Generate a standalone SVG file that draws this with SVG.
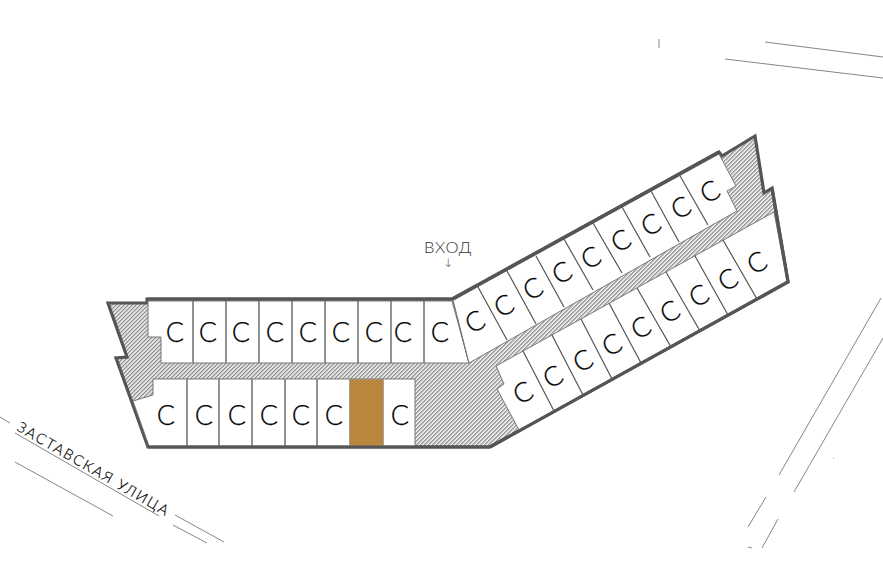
<svg xmlns="http://www.w3.org/2000/svg" width="883" height="571" viewBox="0 0 883 571">
<style>
.o{fill:url(#h);stroke:#555;stroke-width:3.2;stroke-linejoin:miter}
.c{fill:#fff;stroke:#777;stroke-width:1}
.d{fill:none;stroke:#777;stroke-width:1.6}
.s{fill:none;stroke:#555;stroke-width:1.2}
.l{fill:none;stroke:#666;stroke-width:.8}
.e{fill:none;stroke:#555;stroke-width:3.2}
text{font-family:"Lato","Liberation Sans",sans-serif;font-weight:300;fill:#000;stroke:#000;stroke-width:.25;opacity:.99}
.t{font-size:27px;text-anchor:middle}
</style>
<defs>
<pattern id="h" width="2.83" height="2.83" patternUnits="userSpaceOnUse" patternTransform="rotate(-45)">
<rect width="2.83" height="2.83" fill="#fff"/><rect width="2.83" height="1.4" fill="#8c8c8c"/>
</pattern>
</defs>
<rect width="883" height="571" fill="#fff"/>
<g id="building">
<polygon class="o" points="147,303 147,299 452,299 719,152 722,156 755,136 764,193 772,188 788,282 490,447 148,447 116,358 127,357 108,303"/>
</g>
<g id="row-1">
<polygon class="c" points="148,301 452,301 469,363 161,363 161,337 148,337"/>
<path class="d" d="M193,300V363M226,300V363M259,300V363M292,300V363M325,300V363M358,300V363M391,300V363M424,300V363"/>
<path class="s" d="M453,299L469,363"/>
</g>
<g id="row-2">
<polygon class="c" points="153,379 415,379 415,446 149,446 133,401 153,395"/>
<path class="d" d="M187,379V446M219,379V446M252,379V446M285,379V446M317,379V446"/>
</g>
<g id="unit-highlight"><rect x="349.500" y="379" width="34" height="67" fill="#b9863f" stroke="#999" stroke-width=".8"/></g>
<g id="row-3">
<polygon class="c" points="453,300 719,154 736,186 727,191 737,211 469,363"/>
<path class="s" d="M478,287L507,340M507,271L536,324M536,256L564,307M564,239L593,290M593,223L622,273M622,207L650,257M651,191L679,242M679,174L708,225"/>
</g>
<g id="row-4">
<polygon class="c" points="496,366 774,212 787,281 519,430 497,389 504,384"/>
<path class="s" d="M523,351L554,411M552,335L583,395M581,319L612,379M609,303L641,363M637,288L671,347M666,272L700,331M695,256L728,315M723,240L757,299"/>
</g>
<g id="outline">
<path class="e" d="M490,447L788,282L772,188M453,299L719,152M147,299H452M148,447H490"/>
</g>
<g id="labels-row-1">
<text class="t" x="175" y="342">С</text><text class="t" x="208" y="342">С</text><text class="t" x="241" y="342">С</text><text class="t" x="275" y="342">С</text><text class="t" x="308" y="342">С</text><text class="t" x="341" y="342">С</text><text class="t" x="374" y="342">С</text><text class="t" x="403" y="342">С</text><text class="t" x="440" y="342">С</text>
</g>
<g id="labels-row-2">
<text class="t" x="166" y="425">С</text><text class="t" x="204" y="425">С</text><text class="t" x="237" y="425">С</text><text class="t" x="269" y="425">С</text><text class="t" x="301" y="425">С</text><text class="t" x="334" y="425">С</text><text class="t" x="400" y="425">С</text>
</g>
<g id="labels-row-3">
<text class="t" transform="translate(475,322) rotate(-28)" y="9">С</text><text class="t" transform="translate(504,306) rotate(-28)" y="9">С</text><text class="t" transform="translate(533,289) rotate(-28)" y="9">С</text><text class="t" transform="translate(562,273) rotate(-28)" y="9">С</text><text class="t" transform="translate(591,258) rotate(-28)" y="9">С</text><text class="t" transform="translate(621,241) rotate(-28)" y="9">С</text><text class="t" transform="translate(651,225) rotate(-28)" y="9">С</text><text class="t" transform="translate(681,208) rotate(-28)" y="9">С</text><text class="t" transform="translate(710,192) rotate(-28)" y="9">С</text>
</g>
<g id="labels-row-4">
<text class="t" transform="translate(523,393) rotate(-28)" y="9">С</text><text class="t" transform="translate(553,377) rotate(-28)" y="9">С</text><text class="t" transform="translate(583,361) rotate(-28)" y="9">С</text><text class="t" transform="translate(612,345) rotate(-28)" y="9">С</text><text class="t" transform="translate(641,328) rotate(-28)" y="9">С</text><text class="t" transform="translate(670,312) rotate(-28)" y="9">С</text><text class="t" transform="translate(699,296) rotate(-28)" y="9">С</text><text class="t" transform="translate(728,280) rotate(-28)" y="9">С</text><text class="t" transform="translate(757,263) rotate(-28)" y="9">С</text>
</g>
<g id="entrance">
<text x="448" y="253" font-size="16.500" letter-spacing=".8" text-anchor="middle" style="fill:#333;stroke:none">ВХОД</text>
<text x="448" y="267" font-size="12" text-anchor="middle" style="fill:#555;stroke:none;font-family:'DejaVu Sans',sans-serif">↓</text>
</g>
<g id="street">
<text font-size="14.500" transform="translate(16,430) rotate(30)" textLength="172" style="stroke-width:.2">ЗАСТАВСКАЯ УЛИЦА</text>
</g>
<g id="connectors">
<path class="l" d="M0,417L10,423M15,433L159,516M15,462L113,516M175,515L224,542M173,525L207,543M881,298L779,475M883,338L794,492M766,497L748,527M778,519L762,548M748,547L752,548M659,39V48M765,42L883,57M725,59L883,78M833,458h.8"/>
</g>
</svg>
